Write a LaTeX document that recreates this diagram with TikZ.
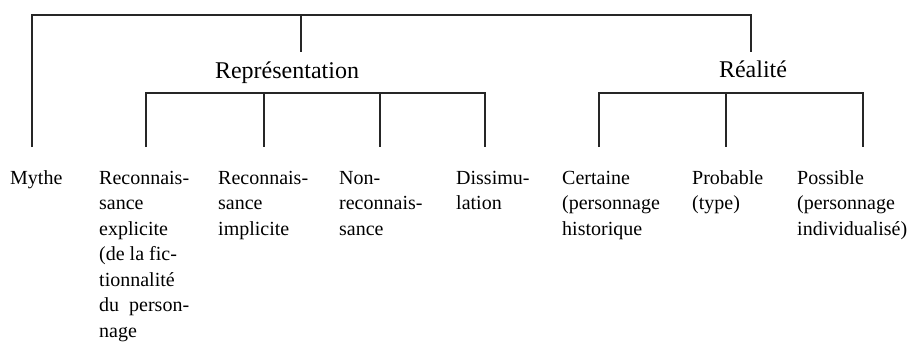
\documentclass[tikz,border=0pt]{standalone}
\usepackage{fontspec}
\setmainfont{Liberation Serif}
\newcommand{\leaflines}[1]{\begin{tabular}[t]{@{}l@{}}#1\end{tabular}}
\begin{document}
\begin{tikzpicture}[x=1pt,y=-1pt,
  branch/.style={line width=1.4pt, draw=black!85},
  leaf/.style={anchor=base west, inner sep=0pt,
    font=\fontsize{20}{25.5}\selectfont},
  cat/.style={anchor=base, inner sep=0pt, font=\fontsize{24}{28}\selectfont}]
\useasboundingbox (0,0) rectangle (919,343);
% labels
\node[cat] (rep) at (287,78) {Représentation};
\node[cat] (rea) at (753,77) {Réalité};
\node[leaf] (mythe) at (10,184) {\leaflines{Mythe}};
\node[leaf] (rex) at (99,184) {\leaflines{Reconnais-\\sance\\explicite\\(de la fic-\\tionnalité\\du~ person-\\nage}};
\node[leaf] (rim) at (218,184) {\leaflines{Reconnais-\\sance\\implicite}};
\node[leaf] (non) at (339,184) {\leaflines{Non-\\reconnais-\\sance}};
\node[leaf] (dis) at (456,184) {\leaflines{Dissimu-\\lation}};
\node[leaf] (cer) at (562,184) {\leaflines{Certaine\\(personnage\\historique}};
\node[leaf] (pro) at (692,184) {\leaflines{Probable\\(type)}};
\node[leaf] (pos) at (797,184) {\leaflines{Possible\\(personnage\\individualisé)}};
% junction coordinates
\coordinate (tl) at (32,15);
\coordinate (tr) at (751,15);
\coordinate (tm) at (301,15);
\coordinate (repTop) at (301,52);
\coordinate (reaTop) at (751,52);
\coordinate (mEnd) at (32,147);
\coordinate (r1) at (146,93);
\coordinate (r2) at (264,93);
\coordinate (r3) at (380,93);
\coordinate (r4) at (485,93);
\coordinate (r1e) at (146,147);
\coordinate (r2e) at (264,147);
\coordinate (r3e) at (380,147);
\coordinate (r4e) at (485,147);
\coordinate (a1) at (599,93);
\coordinate (a2) at (726,93);
\coordinate (a3) at (863,93);
\coordinate (a1e) at (599,147);
\coordinate (a2e) at (726,147);
\coordinate (a3e) at (863,147);
% connectors
\draw[branch] (mEnd) -- (tl) -- (tr) -- (reaTop);
\draw[branch] (tm) -- (repTop);
\draw[branch] (r1e) -- (r1) -- (r4) -- (r4e);
\draw[branch] (r2) -- (r2e);
\draw[branch] (r3) -- (r3e);
\draw[branch] (a1e) -- (a1) -- (a3) -- (a3e);
\draw[branch] (a2) -- (a2e);
\end{tikzpicture}
\end{document}
